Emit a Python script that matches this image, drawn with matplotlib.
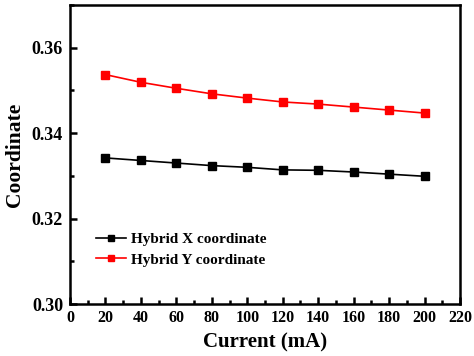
import matplotlib
matplotlib.use("Agg")
import matplotlib.pyplot as plt
from matplotlib.ticker import MultipleLocator

current = [20, 40, 60, 80, 100, 120, 140, 160, 180, 200]
x_coord = [0.3342, 0.3336, 0.3330, 0.3324, 0.3320, 0.3314, 0.3313, 0.3309, 0.3304, 0.3299]
y_coord = [0.3537, 0.3519, 0.3505, 0.3492, 0.3482, 0.3473, 0.3468, 0.3461, 0.3454, 0.3447]
xticks = list(range(0, 221, 20))
yticks = [0.30, 0.32, 0.34, 0.36]

plt.rcParams['font.family'] = ['Liberation Serif', 'DejaVu Serif']
plt.rcParams['font.weight'] = 'bold'

fig = plt.figure(figsize=(4.74, 3.56), dpi=100)
ax = fig.add_axes([0.1477, 0.146, 0.8228, 0.840])

ax.plot(current, x_coord, '-s', color='black', lw=1.2, ms=5.2, label='Hybrid X coordinate')
ax.plot(current, y_coord, '-s', color='red', lw=1.2, ms=5.2, label='Hybrid Y coordinate')

ax.set_xlim(0, 220)
ax.set_ylim(0.30, 0.37)
ax.set_xticks(xticks)
ax.set_yticks(yticks)
ax.set_yticklabels([f"{v:.2f}" for v in yticks])
ax.xaxis.set_minor_locator(MultipleLocator(10))
ax.yaxis.set_minor_locator(MultipleLocator(0.01))
ax.tick_params(which='both', direction='in', width=1.8)
ax.tick_params(axis='x', labelsize=11.5, pad=4)
ax.tick_params(axis='y', labelsize=13, pad=5)
ax.tick_params(which='major', length=5)
ax.tick_params(which='minor', length=3)
for s in ax.spines.values():
    s.set_linewidth(1.8)

ax.set_xlabel('Current (mA)', fontsize=15, fontweight='bold', labelpad=5)
ax.set_ylabel('Coordinate', fontsize=15.5, fontweight='bold', labelpad=5)

leg = ax.legend(loc='lower left', bbox_to_anchor=(0.05, 0.105), frameon=False,
                fontsize=11, handlelength=2.0, handletextpad=0.3, labelspacing=0.45,
                borderaxespad=0, markerscale=0.75)

fig.savefig('out.png', dpi=100)
